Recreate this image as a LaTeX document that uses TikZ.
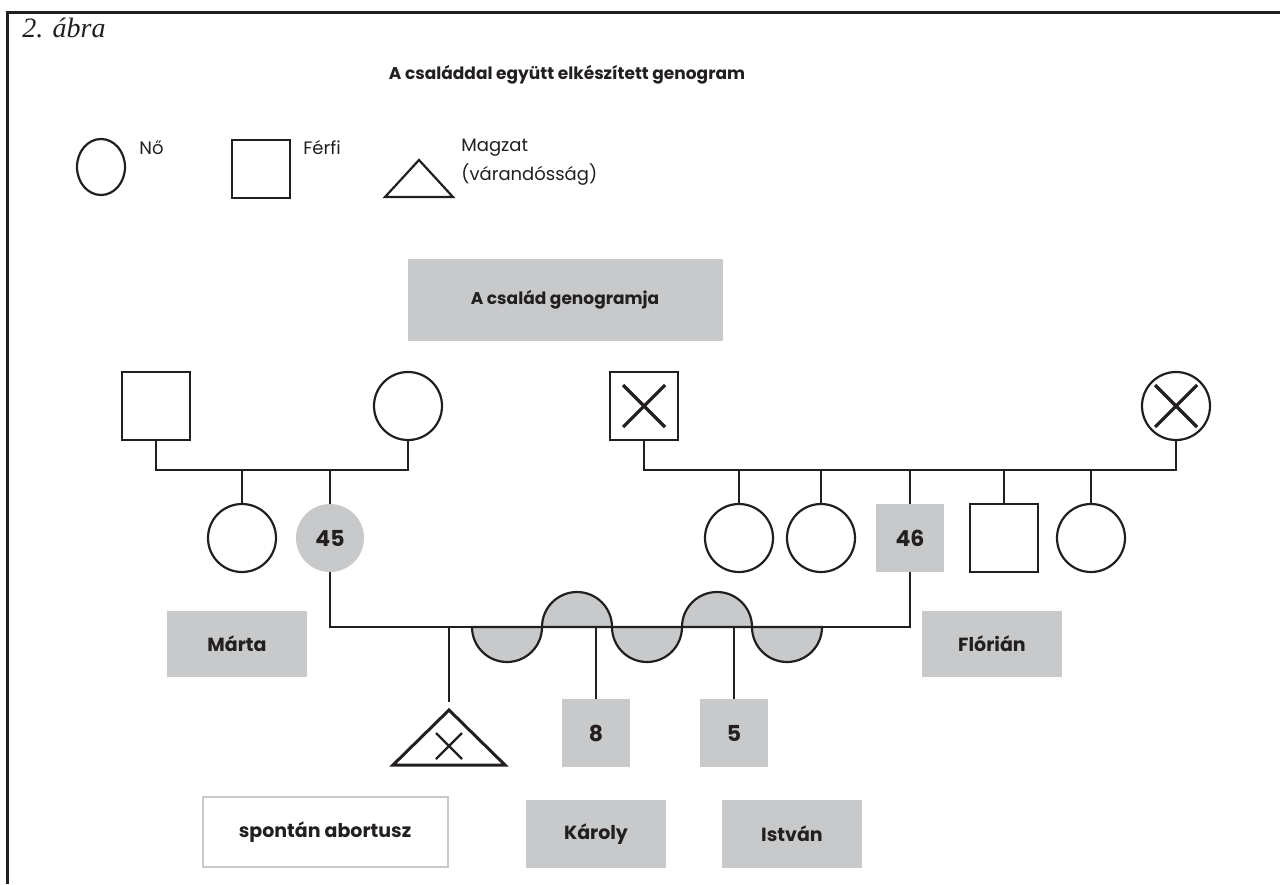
\documentclass[tikz,border=0pt]{standalone}
\usepackage{fontspec}
\setmainfont{Poppins}
\newfontfamily\captionfont{Liberation Serif}
\usepackage{xcolor}
\usepackage{tikz}
\usetikzlibrary{positioning,shapes.geometric}
\definecolor{boxgray}{RGB}{200,201,203}
\definecolor{ink}{RGB}{35,31,32}

\begin{document}
\begin{tikzpicture}
  [x=0.5pt,y=-0.5pt,
  every node/.style={text=ink},
  rel/.style={draw=ink,line width=1.1pt},
  female/.style={circle,draw=ink,line width=1.1pt,inner sep=0pt,minimum size=34pt},
  male/.style={rectangle,draw=ink,line width=1.1pt,inner sep=0pt,minimum size=34pt},
  dead/.style={path picture={\draw[ink,line width=1.6pt]
      (path picture bounding box.center) +(-10.5pt,-10.5pt) -- +(10.5pt,10.5pt)
      +(-10.5pt,10.5pt) -- +(10.5pt,-10.5pt);}},
  indexf/.style={circle,fill=boxgray,inner sep=0pt,minimum size=34pt,font=\bfseries\fontsize{11}{13}\selectfont},
  indexm/.style={rectangle,fill=boxgray,inner sep=0pt,minimum size=34pt,font=\bfseries\fontsize{11}{13}\selectfont},
  namebox/.style={rectangle,fill=boxgray,inner sep=0pt,minimum width=70pt,minimum height=33pt,font=\bfseries\fontsize{9.5}{11}\selectfont},
  legend/.style={anchor=north west,inner sep=0pt,font=\fontsize{9}{14.5}\selectfont},
  bond/.style={fill=boxgray,draw=ink,line width=1.1pt},
  fetus/.style={draw=ink,line width=1.5pt,line join=miter}
  ]
  \useasboundingbox (0,0) rectangle (1280,884);
  \draw[ink,line width=1.5pt] (7,884) -- (7,12) -- (1280,12);
  \node[anchor=west,inner sep=0pt,font=\captionfont\itshape\fontsize{14}{16}\selectfont] (fig) at (22,28) {2. ábra};
  \node[font=\bfseries\fontsize{8.5}{11}\selectfont] (title) at (567,75) {A családdal együtt elkészített genogram};

  % key
  \node[ellipse,draw=ink,line width=1.1pt,inner sep=0pt,minimum width=24pt,minimum height=28pt] (keyf) at (101,167) {};
  \node[legend] (keyftext) at (139,140) {Nő};
  \node[male,minimum size=29pt] (keym) at (261,169) {};
  \node[legend] (keymtext) at (303,140) {Férfi};
  \coordinate (keyt) at (419,160);
  \draw[ink,line width=1.1pt,line join=miter] (keyt) -- ++(34,37) -- ++(-68,0) -- cycle;
  \node[legend,align=left] (keyttext) at (461,139) {Magzat\\(várandósság)};

  \node[namebox,minimum width=157.5pt,minimum height=41pt,font=\bfseries\fontsize{8.5}{11}\selectfont] (header) at (565,300) {A család genogramja};

  % grandparents
  \coordinate (lineA) at (0,470);
  \node[male] (gfa) at (156,406) {};
  \node[female] (gma) at (408,406) {};
  \node[male,dead] (gfb) at (644,406) {};
  \node[female,dead] (gmb) at (1176,406) {};

  % parents and siblings
  \node[female] (aunt) at (242,538) {};
  \node[indexf] (marta) at (330,538) {45};
  \node[female] (sisa) at (739,538) {};
  \node[female] (sisb) at (821,538) {};
  \node[indexm] (florian) at (910,538) {46};
  \node[male] (bro) at (1004,538) {};
  \node[female] (sisc) at (1091,538) {};

  \draw[rel] (gfa.south) -- (gfa.south |- lineA) -- (gma.south |- lineA) -- (gma.south);
  \draw[rel] (gfb.south) -- (gfb.south |- lineA) -- (gmb.south |- lineA) -- (gmb.south);
  \foreach \kid in {aunt,marta,sisa,sisb,florian,bro,sisc}
    \draw[rel] (\kid.north) -- (\kid.north |- lineA);

  \node[namebox] (martaname) at (237,644) {Márta};
  \node[namebox] (florianname) at (992,644) {Flórián};

  % couple with the arcs
  \coordinate (cpl) at (0,627);
  \foreach \cx in {507,647,787}
    \draw[bond] (\cx-35,627) arc[start angle=180,end angle=0,radius=35] -- cycle;
  \foreach \cx in {577,717}
    \draw[bond] (\cx-35,627) arc[start angle=180,end angle=360,radius=35] -- cycle;
  \draw[rel] (marta.south) -- (marta.south |- cpl) -- (florian.south |- cpl) -- (florian.south);

  % children
  \coordinate (abort) at (449,710);
  \node[indexm] (karoly) at (596,733) {8};
  \node[indexm] (istvan) at (734,733) {5};
  \draw[rel,shorten >=4pt] (abort |- cpl) -- (abort);
  \draw[rel] (karoly.north |- cpl) -- (karoly.north);
  \draw[rel] (istvan.north |- cpl) -- (istvan.north);
  \draw[fetus] (abort) -- ++(56,55) -- ++(-112,0) -- cycle;
  \draw[ink,line width=1.2pt] (abort) +(-13,23) -- +(13,49) +(-13,49) -- +(13,23);

  \node[namebox,fill=white,draw=boxgray,line width=1pt,minimum width=122.5pt,minimum height=35pt] (abortname) at (325,832) {spontán abortusz};
  \node[namebox,minimum height=34pt] (karolyname) at (596,834) {Károly};
  \node[namebox,minimum height=34pt] (istvanname) at (792,834) {István};
\end{tikzpicture}
\end{document}
